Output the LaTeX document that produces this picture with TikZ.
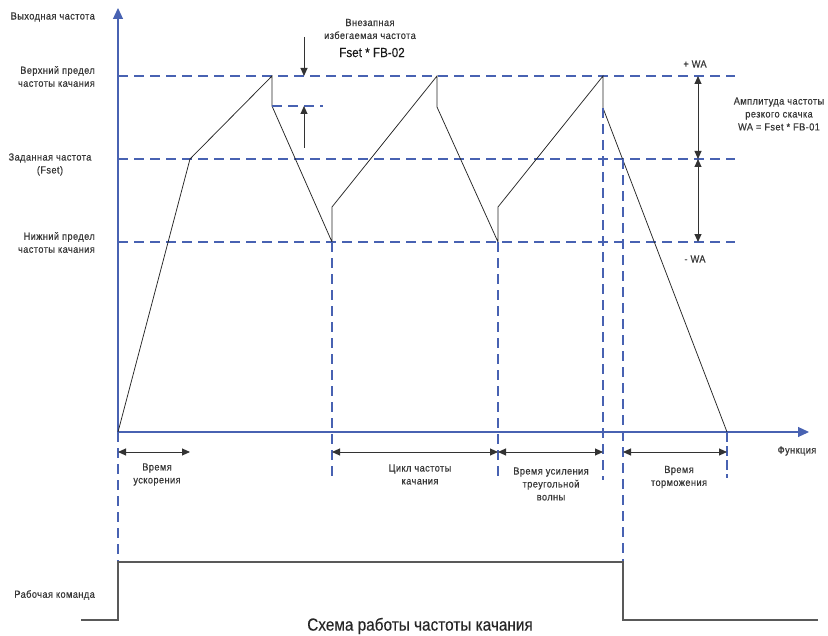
\documentclass[tikz,border=0pt]{standalone}
\usepackage{fontspec}
\setmainfont{Liberation Sans}[FakeStretch=0.9,LetterSpace=4,FakeBold=0.5]
\newfontfamily\bigfont{Liberation Sans}[FakeStretch=0.88,FakeBold=0.25]
\usetikzlibrary{arrows.meta}
\definecolor{lblue}{RGB}{72,98,178}
\definecolor{txt}{RGB}{55,55,55}
\begin{document}
\begin{tikzpicture}[x=1bp,y=-1bp,
  guide/.style={draw=lblue, line width=1.1bp, dash pattern=on 10bp off 6bp},
  axis/.style={draw=lblue, line width=1.1bp, -{Triangle[length=11bp,width=10bp]}},
  wave/.style={draw=black!85, line width=0.75bp, line join=miter},
  cmd/.style={draw=black!65, line width=1.2bp},
  dimtip/.tip={Triangle[length=8bp,width=7bp]},
  dimb/.style={draw=black!80, line width=0.9bp, dimtip-dimtip},
  dime/.style={draw=black!80, line width=0.9bp, -dimtip},
  lbl/.style={font=\fontsize{10.3}{13}\selectfont, text=txt, align=center, inner sep=0},
  big/.style={font=\bigfont\fontsize{13.3}{15}\selectfont, text=black!90, inner sep=0},
  title/.style={font=\bigfont\fontsize{17.5}{19}\selectfont, text=black!85, inner sep=0},
]
\useasboundingbox (0,0) rectangle (828,636);
% axes
\coordinate (O) at (118,432);
\coordinate (Ytop) at (118,8);
\coordinate (Xend) at (809,432);
\draw[axis] (O) -- (Ytop);
\draw[axis] (O) -- (Xend);
% horizontal guides
\coordinate (U1) at (118,76);  \coordinate (U2) at (735,76);
\coordinate (S1) at (118,159); \coordinate (S2) at (735,159);
\coordinate (L1) at (118,242); \coordinate (L2) at (735,242);
\draw[guide] (U1) -- (U2);
\draw[guide] (S1) -- (S2);
\draw[guide] (L1) -- (L2);
% waveform points
\coordinate (p1) at (190,159);
\coordinate (p2) at (272,76);
\coordinate (p3) at (272,106);
\coordinate (p4) at (332,242);
\coordinate (p5) at (332,207);
\coordinate (p6) at (437,76);
\coordinate (p7) at (437,107);
\coordinate (p8) at (498,242);
\coordinate (p9) at (498,207);
\coordinate (p10) at (603,76);
\coordinate (p11) at (603,108);
\coordinate (p12) at (727,432);
\draw[wave] (O) -- (p1) -- (p2) -- (p3) -- (p4) -- (p5) -- (p6) -- (p7) -- (p8) -- (p9) -- (p10) -- (p11) -- (p12);
% small jump guide
\coordinate (j2) at (323,106);
\draw[guide] (p3) -- (j2);
% vertical guides
\coordinate (v0) at (118,562);
\coordinate (v1a) at (332,242); \coordinate (v1b) at (332,480);
\coordinate (v2a) at (498,242); \coordinate (v2b) at (498,480);
\coordinate (v3a) at (603,108); \coordinate (v3b) at (603,480);
\coordinate (v4a) at (623,159); \coordinate (v4b) at (623,562);
\coordinate (v5a) at (727,432); \coordinate (v5b) at (727,478);
\draw[guide] (O) -- (v0);
\draw[guide] (v1a) -- (v1b);
\draw[guide] (v2a) -- (v2b);
\draw[guide] (v3a) -- (v3b);
\draw[guide] (v4a) -- (v4b);
\draw[guide, dash pattern=on 10bp off 4bp] (v5a) -- (v5b);
% jump arrows
\coordinate (ja) at (304,37);  \coordinate (jb) at (304,76);
\coordinate (jc) at (304,148); \coordinate (jd) at (304,106);
\draw[dime] (ja) -- (jb);
\draw[dime] (jc) -- (jd);
% amplitude arrows
\coordinate (a1) at (698,76); \coordinate (a2) at (698,159); \coordinate (a3) at (698,242);
\draw[dimb] (a1) -- (a2);
\draw[dimb] (a2) -- (a3);
% time arrows
\coordinate (t0) at (118,452); \coordinate (t1) at (190,452);
\coordinate (t2) at (332,452); \coordinate (t3) at (498,452);
\coordinate (t4) at (603,452); \coordinate (t5) at (623,452);
\coordinate (t6) at (727,452);
\draw[dimb] (t0) -- (t1);
\draw[dimb] (t2) -- (t3);
\draw[dimb] (t3) -- (t4);
\draw[dimb] (t5) -- (t6);
% command signal
\coordinate (c0) at (81,620); \coordinate (c1) at (118,620);
\coordinate (c2) at (623,562); \coordinate (c3) at (623,620);
\coordinate (c4) at (818,620);
\draw[cmd] (c0) -- (c1) -- (v0) -- (c2) -- (c3) -- (c4);
% labels
\node[lbl, anchor=east] (ylab) at (95,17) {Выходная частота};
\node[lbl, align=right, anchor=east] (upl) at (95,76.5) {Верхний предел\\частоты качания};
\node[lbl] (setl) at (50,164.5) {Заданная частота\\(Fset)};
\node[lbl, align=right, anchor=east] (lowl) at (95,242.5) {Нижний предел\\частоты качания};
\node[lbl] (jt) at (370,29) {Внезапная\\избегаемая частота};
\node[big] (jf) at (372,52.5) {Fset * FB-02};
\node[lbl] (pwa) at (695,64) {+ WA};
\node[lbl] (mwa) at (695,259) {- WA};
\node[lbl] (amp) at (779,114) {Амплитуда частоты\\резкого скачка\\WA = Fset * FB-01};
\node[lbl] (func) at (797,451) {Функция};
\node[lbl] (acc) at (157,474.5) {Время\\ускорения};
\node[lbl] (cyc) at (420,474.5) {Цикл частоты\\качания};
\node[lbl] (tri) at (551,484) {Время усиления\\треугольной\\волны};
\node[lbl] (dec) at (679,477) {Время\\торможения};
\node[lbl, anchor=east] (run) at (95,595) {Рабочая команда};
\node[title] (ttl) at (420,626) {Схема работы частоты качания};
\end{tikzpicture}
\end{document}
